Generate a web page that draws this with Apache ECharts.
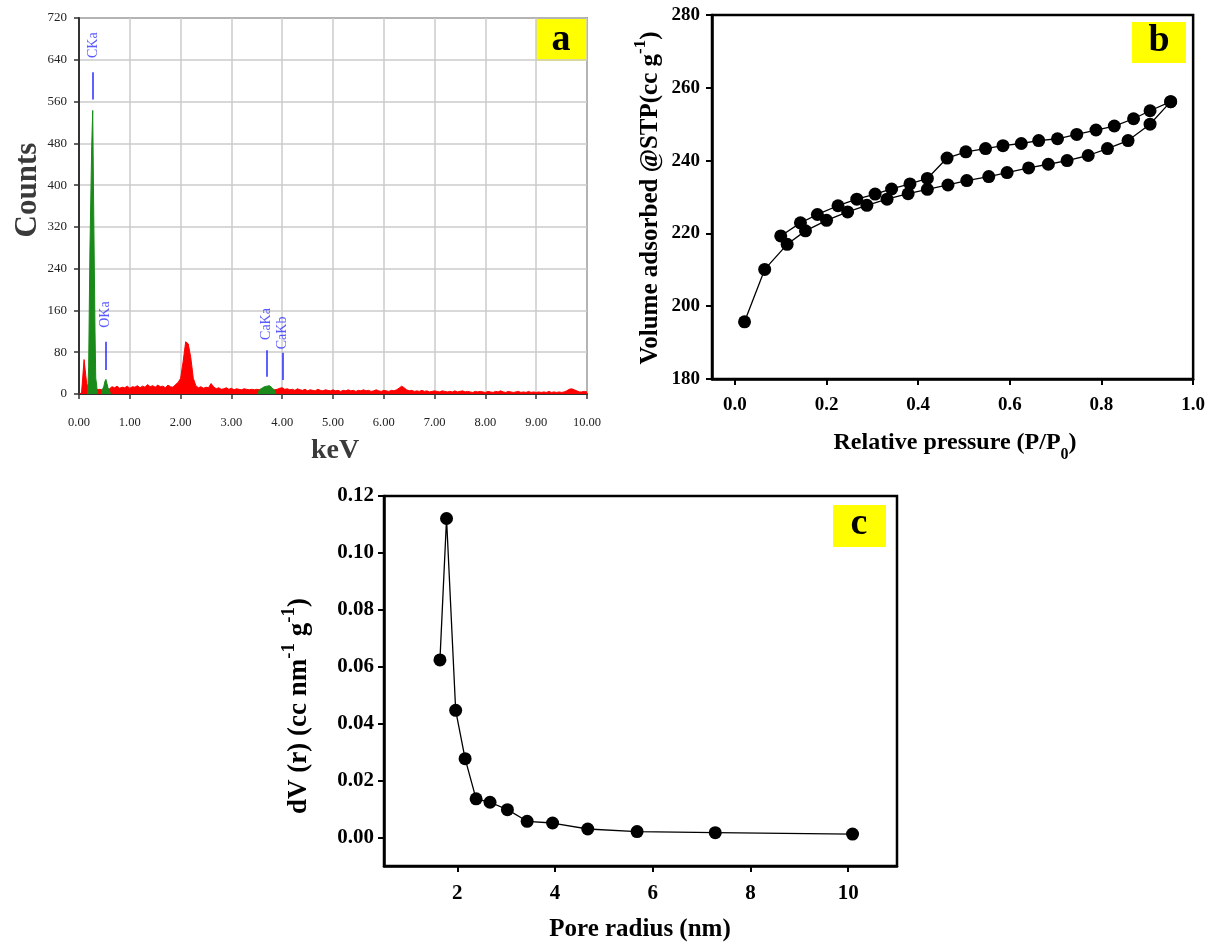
<!DOCTYPE html>
<html>
<head>
<meta charset="utf-8">
<script src="https://cdn.jsdelivr.net/npm/echarts@6/dist/echarts.min.js"></script>
<style>
  html, body { margin: 0; padding: 0; background: #fff; }
  #chart { width: 1208px; height: 947px; }
</style>
</head>
<body>
<div id="chart"></div>
<script>
// (a) EDS spectrum, red counts every 0.05 keV from 0.00 to 10.00
const redStep = 0.05;
const redCounts = [
  0, 2, 66, 20, 8, 6, 6, 8, 9, 8, 10, 9, 10, 14, 12, 15, 11, 13, 12, 15,
  11, 14, 13, 16, 12, 15, 13, 18, 14, 16, 13, 17, 14, 15, 12, 17, 14, 13, 18, 22,
  30, 62, 100, 96, 70, 30, 16, 12, 14, 11, 13, 12, 20, 14, 10, 12, 9, 10, 12, 9,
  11, 8, 10, 9, 8, 10, 9, 8, 9, 8, 9, 8, 8, 8, 8, 8, 8, 8, 9, 11,
  12, 9, 10, 8, 9, 7, 10, 8, 7, 9, 6, 8, 7, 6, 9, 7, 6, 8, 7, 6,
  8, 6, 7, 5, 7, 6, 8, 6, 7, 5, 7, 6, 8, 6, 7, 5, 6, 8, 6, 5,
  7, 6, 5, 7, 6, 8, 11, 15, 12, 8, 6, 7, 5, 6, 5, 7, 5, 6, 4, 5,
  6, 5, 4, 6, 5, 4, 5, 4, 6, 4, 5, 6, 4, 5, 4, 3, 5, 4, 5, 4,
  3, 5, 4, 3, 5, 4, 6, 4, 3, 5, 4, 3, 4, 5, 3, 4, 3, 5, 3, 4,
  3, 4, 3, 4, 3, 5, 3, 4, 3, 4, 3, 4, 6, 9, 10, 8, 6, 4, 4, 5,
  4
];
// green (identified) peaks, [keV, counts]
const greenC = [[0.17, 0], [0.19, 52], [0.21, 52], [0.215, 276], [0.245, 276], [0.25, 474], [0.265, 474],
  [0.27, 543], [0.285, 543], [0.29, 348], [0.31, 348], [0.315, 120], [0.33, 30], [0.35, 15], [0.36, 0]];
const greenO = [[0.44, 0], [0.46, 8], [0.49, 15], [0.51, 24], [0.53, 28], [0.55, 20], [0.57, 12], [0.60, 6], [0.62, 0]];
const greenCa = [[3.52, 0], [3.55, 8], [3.60, 11], [3.65, 14], [3.70, 15], [3.75, 16], [3.80, 12], [3.85, 7], [3.88, 0]];

// element markers
const lineNames = ['CKa', 'OKa', 'CaKa', 'CaKb'];
const lineEnergy = [0.277, 0.525, 3.69, 4.01];
const lineLow = [564, 46, 33, 27];
const lineHigh = [616, 100, 84, 79];
const labelCount = [668, 152, 134, 117];

// (b) N2 isotherm
const adsX = [0.021, 0.065, 0.114, 0.154, 0.200, 0.246, 0.288, 0.332, 0.378, 0.420, 0.465, 0.506, 0.554, 0.594, 0.641, 0.684, 0.725, 0.771, 0.813, 0.858, 0.906, 0.951];
const adsY = [195.7, 210.1, 217.0, 220.7, 223.6, 225.9, 227.7, 229.4, 230.9, 232.1, 233.3, 234.5, 235.6, 236.7, 238.0, 239.0, 240.0, 241.4, 243.3, 245.5, 250.0, 256.2];
const desX = [0.951, 0.906, 0.870, 0.828, 0.788, 0.746, 0.704, 0.663, 0.625, 0.585, 0.547, 0.504, 0.463, 0.420, 0.382, 0.342, 0.306, 0.266, 0.225, 0.180, 0.143, 0.100];
const desY = [256.2, 253.7, 251.5, 249.5, 248.4, 247.2, 246.0, 245.5, 244.7, 244.1, 243.3, 242.4, 240.7, 235.1, 233.6, 232.2, 230.8, 229.4, 227.6, 225.2, 222.9, 219.3];
const pTicks = [0, 0.2, 0.4, 0.6, 0.8, 1.0];

// (c) pore size distribution
const poreR = [1.645, 1.78, 1.967, 2.16, 2.385, 2.67, 3.026, 3.43, 3.95, 4.67, 5.68, 7.28, 10.09];
const dV = [0.0624, 0.1121, 0.0447, 0.0277, 0.0136, 0.0124, 0.0098, 0.0057, 0.0051, 0.0030, 0.0021, 0.0017, 0.0012];
const rTicks = [2, 4, 6, 8, 10];
const dvTicks = [0, 0.02, 0.04, 0.06, 0.08, 0.10, 0.12];

const serif = "'Liberation Serif', 'DejaVu Serif', serif";
const chart = echarts.init(document.getElementById('chart'));

const redData = redCounts.map((c, i) => [+(i * redStep).toFixed(2), c]);
const zip = (xs, ys) => xs.map((x, i) => [x, ys[i]]);

const boldAxis = (extra) => Object.assign({
  type: 'value',
  axisLine: { show: true, onZero: false, lineStyle: { color: '#000', width: 2.5 } },
  axisTick: { show: true, inside: false, length: 6, lineStyle: { color: '#000', width: 2 } },
  splitLine: { show: false }
}, extra);
const boldLabel = (size, extra) => Object.assign({ color: '#000', fontFamily: serif, fontWeight: 'bold', fontSize: size }, extra);
const tick = (vals) => ({ show: true, inside: false, length: 6, customValues: vals, lineStyle: { color: '#000', width: 2 } });

const titleRich = (size, sup) => ({
  t: { fontFamily: serif, fontWeight: 'bold', fontSize: size, fill: '#000', lineHeight: size + 6, verticalAlign: 'bottom' },
  s: { fontFamily: serif, fontWeight: 'bold', fontSize: sup, fill: '#000', lineHeight: size + 6, verticalAlign: 'top' }
});

const option = {
  animation: false,
  backgroundColor: '#fff',
  grid: [
    { left: 79, top: 18, width: 508, height: 376, show: true, borderColor: '#444', borderWidth: 1.5 },
    { left: 712, top: 15, width: 484, height: 364, show: true, borderColor: '#000', borderWidth: 2.5 },
    { left: 384, top: 496, width: 513, height: 370, show: true, borderColor: '#000', borderWidth: 2.5 }
  ],
  xAxis: [
    {
      type: 'value', gridIndex: 0, min: 0, max: 10, interval: 1,
      axisLine: { lineStyle: { color: '#333', width: 2 } },
      axisTick: { inside: false, length: 5, lineStyle: { color: '#333', width: 1.5 } },
      axisLabel: { margin: 22, color: '#222', fontFamily: serif, fontSize: 12.5, formatter: v => v.toFixed(2) },
      splitLine: { show: true, lineStyle: { color: '#cbcbcb', width: 1.5 } }
    },
    boldAxis({
      gridIndex: 1, min: -0.05, max: 1.0,
      axisTick: tick(pTicks),
      axisLabel: boldLabel(19, { margin: 17, customValues: pTicks, formatter: v => v.toFixed(1) })
    }),
    boldAxis({
      gridIndex: 2, min: 0.5, max: 11,
      axisTick: tick(rTicks),
      axisLabel: boldLabel(21, { margin: 17, customValues: rTicks })
    })
  ],
  yAxis: [
    {
      type: 'value', gridIndex: 0, min: 0, max: 720, interval: 80,
      axisLine: { show: true, lineStyle: { color: '#333', width: 2 } },
      axisTick: { show: true, inside: false, length: 5, lineStyle: { color: '#333', width: 1.5 } },
      axisLabel: { margin: 12, color: '#222', fontFamily: serif, fontSize: 13 },
      splitLine: { show: true, lineStyle: { color: '#cbcbcb', width: 1.5 } }
    },
    boldAxis({ gridIndex: 1, min: 180, max: 280, interval: 20, axisLabel: boldLabel(19, { margin: 12 }) }),
    boldAxis({
      gridIndex: 2, min: -0.01, max: 0.12,
      axisTick: tick(dvTicks),
      axisLabel: boldLabel(21, { margin: 10, customValues: dvTicks, formatter: v => v.toFixed(2) })
    })
  ],
  series: [
    {
      type: 'line', xAxisIndex: 0, yAxisIndex: 0, data: redData, symbol: 'none',
      lineStyle: { color: '#ff0000', width: 1 }, areaStyle: { color: '#ff0000', opacity: 1 }, z: 2
    },
    ...[greenC, greenO, greenCa].map(d => ({
      type: 'line', xAxisIndex: 0, yAxisIndex: 0, data: d, symbol: 'none',
      lineStyle: { color: '#1a8a1a', width: 1 }, areaStyle: { color: '#1a8a1a', opacity: 1 }, z: 3
    })),
    {
      // marker ticks for identified lines
      type: 'line', xAxisIndex: 0, yAxisIndex: 0, data: [], symbol: 'none',
      markLine: {
        silent: true, symbol: 'none', label: { show: false },
        lineStyle: { color: '#2b2bff', width: 1.5, type: 'solid' },
        data: lineEnergy.map((e, i) => [{ coord: [e, lineLow[i]] }, { coord: [e, lineHigh[i]] }])
      }
    },
    {
      type: 'scatter', xAxisIndex: 0, yAxisIndex: 0, symbolSize: 0,
      data: lineEnergy.map((e, i) => ({ value: [e, labelCount[i]], name: lineNames[i] })),
      label: {
        show: true, position: 'inside', rotate: 90, formatter: p => p.name,
        color: '#3030ff', fontFamily: serif, fontSize: 14
      }, z: 5
    },
    {
      type: 'line', xAxisIndex: 1, yAxisIndex: 1, data: zip(adsX, adsY),
      symbol: 'circle', symbolSize: 13, itemStyle: { color: '#000' }, lineStyle: { color: '#000', width: 1.3 }
    },
    {
      type: 'line', xAxisIndex: 1, yAxisIndex: 1, data: zip(desX, desY),
      symbol: 'circle', symbolSize: 13, itemStyle: { color: '#000' }, lineStyle: { color: '#000', width: 1.3 }
    },
    {
      type: 'line', xAxisIndex: 2, yAxisIndex: 2, data: zip(poreR, dV),
      symbol: 'circle', symbolSize: 13, itemStyle: { color: '#000' }, lineStyle: { color: '#000', width: 1.3 }
    }
  ],
  graphic: [
    // panel letters
    { type: 'rect', shape: { x: 536, y: 19, width: 51, height: 42 }, style: { fill: '#ffff00' } },
    { type: 'text', x: 561, y: 40, style: { text: 'a', fontFamily: serif, fontWeight: 'bold', fontSize: 38, fill: '#000', align: 'center', verticalAlign: 'middle' } },
    { type: 'rect', shape: { x: 1132, y: 22, width: 54, height: 41 }, style: { fill: '#ffff00' } },
    { type: 'text', x: 1159, y: 41, style: { text: 'b', fontFamily: serif, fontWeight: 'bold', fontSize: 38, fill: '#000', align: 'center', verticalAlign: 'middle' } },
    { type: 'rect', shape: { x: 833, y: 505, width: 53, height: 42 }, style: { fill: '#ffff00' } },
    { type: 'text', x: 859, y: 524, style: { text: 'c', fontFamily: serif, fontWeight: 'bold', fontSize: 38, fill: '#000', align: 'center', verticalAlign: 'middle' } },
    // axis titles
    { type: 'text', x: 28, y: 190, rotation: Math.PI / 2, style: { text: 'Counts', fontFamily: serif, fontWeight: 'bold', fontSize: 31, fill: '#3a3a3a', align: 'center', verticalAlign: 'middle' } },
    { type: 'text', x: 335, y: 451, style: { text: 'keV', fontFamily: serif, fontWeight: 'bold', fontSize: 28, fill: '#3a3a3a', align: 'center', verticalAlign: 'middle' } },
    {
      type: 'text', x: 648, y: 198, rotation: Math.PI / 2,
      style: { text: '{t|Volume adsorbed @STP(cc g}{s|-1}{t|)}', align: 'center', verticalAlign: 'middle', rich: titleRich(25, 17) }
    },
    {
      type: 'text', x: 955, y: 447,
      style: {
        text: '{t|Relative pressure (P/P}{s|0}{t|)}', align: 'center', verticalAlign: 'middle',
        rich: {
          t: { fontFamily: serif, fontWeight: 'bold', fontSize: 24, fill: '#000', lineHeight: 32, verticalAlign: 'top' },
          s: { fontFamily: serif, fontWeight: 'bold', fontSize: 16, fill: '#000', lineHeight: 32, verticalAlign: 'bottom' }
        }
      }
    },
    {
      type: 'text', x: 296, y: 706, rotation: Math.PI / 2,
      style: { text: '{t|dV (r) (cc nm}{s|-1}{t| g}{s|-1}{t|)}', align: 'center', verticalAlign: 'middle', rich: titleRich(27, 19) }
    },
    { type: 'text', x: 640, y: 930, style: { text: 'Pore radius (nm)', fontFamily: serif, fontWeight: 'bold', fontSize: 25, fill: '#000', align: 'center', verticalAlign: 'middle' } }
  ]
};

chart.setOption(option);
</script>
</body>
</html>
